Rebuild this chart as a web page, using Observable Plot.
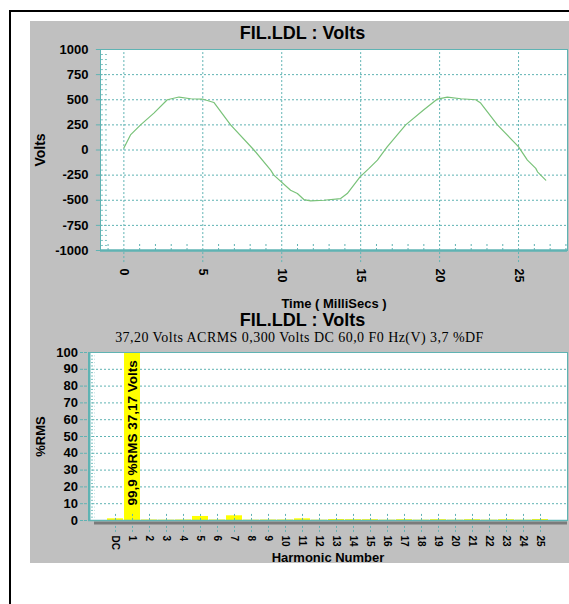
<!DOCTYPE html>
<html><head><meta charset="utf-8">
<script src="https://cdn.jsdelivr.net/npm/d3@7"></script>
<script src="https://cdn.jsdelivr.net/npm/@observablehq/plot@0.6"></script>
<style>
html,body{margin:0;padding:0;background:#fff;width:569px;height:604px;overflow:hidden;position:relative;font-family:"Liberation Sans",Arial,sans-serif;}
#frame{position:absolute;left:9px;top:10px;width:600px;height:640px;border-left:2px solid #000;border-top:2px solid #000;}
#panel{position:absolute;left:30px;top:21px;width:539px;height:542px;background:#c0c0c0;}
.title{position:absolute;left:33px;width:539px;text-align:center;font-weight:bold;font-size:18px;line-height:18px;color:#000;white-space:nowrap;}
.sub{position:absolute;left:30px;width:539px;text-align:center;font-family:"Liberation Serif","Times New Roman",serif;font-size:14px;line-height:14px;letter-spacing:0.45px;color:#000;white-space:nowrap;}
</style></head>
<body>
<div id="frame"></div>
<div id="panel"></div>
<div id="charts"></div>
<div class="title" style="top:24px">FIL.LDL : Volts</div>
<div class="title" style="top:311px">FIL.LDL : Volts</div>
<div class="sub" style="top:331px">37,20 Volts ACRMS 0,300 Volts DC 60,0 F0 Hz(V) 3,7 %DF</div>
<script>
// ---- Waveform data (top chart) ----
const timeMs = [0.0, 0.42, 1.06, 1.9, 2.75, 3.49, 4.23, 4.97, 5.7, 6.76, 8.24, 9.3, 9.5, 10.56, 10.99, 11.4, 11.83, 12.67, 13.73, 14.15, 14.96, 15.53, 16.06, 16.69, 17.85, 19.0, 19.86, 20.49, 21.34, 22.29, 22.6, 23.66, 24.99, 25.56, 26.09, 26.2, 26.72];
const volts = [20, 150, 250, 367, 500, 527, 510, 507, 473, 250, 0, -200, -250, -400, -433, -493, -507, -500, -483, -433, -267, -183, -100, 33, 250, 400, 507, 527, 510, 500, 467, 250, 33, -100, -183, -217, -300];
const voltTicks = [-1000, -750, -500, -250, 0, 250, 500, 750, 1000];
const timeTicks = [0, 5, 10, 15, 20, 25];

// ---- Harmonic data (bottom chart) ----
const harmonics = ["DC","1","2","3","4","5","6","7","8","9","10","11","12","13","14","15","16","17","18","19","20","21","22","23","24","25"];
const pctRms = [1.0, 99.9, 0.3, 0.2, 0.3, 2.4, 0.3, 2.8, 0.2, 0.3, 0.3, 1.0, 0.2, 0.6, 0.5, 0.5, 0.2, 0.5, 0.2, 0.5, 0.2, 0.5, 0.2, 0.5, 0.2, 0.6];
const pctTicks = [0, 10, 20, 30, 40, 50, 60, 70, 80, 90, 100];
const barLabel = "99,9 %RMS 37,17 Volts";

const teal = "#5fb3b3";
const green = "#79c279";
const font = '"Liberation Sans", Arial, sans-serif';

const wave = timeMs.map((t, i) => ({t, v: volts[i]}));
const minorT = d3.range(-1, 29).filter(d => d % 5 !== 0);
const minorV = d3.range(-1000, 1001, 50);

const topChart = Plot.plot({
  width: 569, height: 320,
  marginTop: 49, marginLeft: 100, marginRight: 2, marginBottom: 70,
  x: {domain: [-1.48, 28.1], axis: null},
  y: {domain: [-1000, 1000], axis: null},
  style: {position: "absolute", left: "0px", top: "0px", background: "transparent", overflow: "visible", fontFamily: font, color: "#000"},
  marks: [
    Plot.frame({fill: "white", stroke: null}),
    Plot.ruleY(voltTicks.slice(1, -1), {stroke: teal, strokeDasharray: "2,2"}),
    Plot.ruleX(timeTicks, {y1: -1120, y2: 1000, stroke: teal, strokeDasharray: "2,2"}),
    Plot.ruleX(minorT, {y1: -1000, y2: -920, stroke: teal, strokeDasharray: "2,2"}),
    Plot.ruleY(minorV, {x1: -1.42, x2: -1.0, stroke: teal, strokeDasharray: "2,2", strokeOpacity: 0.8}),
    Plot.ruleY(voltTicks, {x1: -1.74, x2: -1.48, stroke: teal}),
    Plot.line(wave, {x: "t", y: "v", stroke: green, strokeWidth: 1.2}),
    Plot.frame({stroke: teal}),
    Plot.ruleY([-1000], {stroke: teal, strokeWidth: 2.5}),
    Plot.text(voltTicks, {x: -1.48, y: d => d, text: d => String(d), dx: -12, textAnchor: "end", fontSize: 13, fontWeight: "bold", fill: "#000"}),
    Plot.text(timeTicks, {x: d => d, y: -1000, text: d => String(d), dy: 18, rotate: 90, textAnchor: "start", lineAnchor: "middle", fontSize: 12.5, fontWeight: "bold", fill: "#000"}),
    Plot.text(["Time ( MilliSecs )"], {frameAnchor: "bottom", dy: 53, lineAnchor: "middle", textAnchor: "middle", fontSize: 13, fontWeight: "bold", fill: "#000"}),
    Plot.text(["Volts"], {frameAnchor: "left", dx: -60, rotate: -90, textAnchor: "middle", lineAnchor: "middle", fontSize: 14, fontWeight: "bold", fill: "#000"})
  ]
});

const bottomChart = Plot.plot({
  width: 569, height: 604,
  marginTop: 352, marginLeft: 88, marginRight: 2, marginBottom: 84,
  x: {type: "band", domain: harmonics, range: [99, 556.6], paddingInner: 0.06, paddingOuter: 0, axis: null},
  y: {domain: [0, 100], axis: null},
  style: {position: "absolute", left: "0px", top: "0px", background: "transparent", overflow: "visible", fontFamily: font, color: "#000"},
  marks: [
    Plot.frame({fill: "white", stroke: null}),
    Plot.ruleY(pctTicks.slice(1, -1), {stroke: teal, strokeDasharray: "2,2"}),
    Plot.ruleY(d3.range(0, 101, 2), {insetLeft: 3, insetRight: 472, stroke: teal, strokeDasharray: "2,1.5", strokeOpacity: 0.8}),
    Plot.ruleY(pctTicks, {insetLeft: -8, insetRight: 479, stroke: teal, strokeDasharray: "3,1"}),
    Plot.barY(harmonics.map((h, i) => ({h, p: pctRms[i]})), {x: "h", y: "p", fill: "#ffff00"}),
    Plot.ruleX(harmonics, {y1: -7.1, y2: 4.2, stroke: teal, strokeDasharray: "2,2"}),
    Plot.frame({stroke: teal}),
    Plot.frame({insetRight: 477, fill: teal, stroke: null}),
    Plot.ruleY([0], {dy: 2.5, stroke: "#7a7a7a", strokeWidth: 3, insetLeft: 6}),
    Plot.ruleY([0], {stroke: teal, strokeWidth: 1.5}),
    Plot.text([barLabel], {x: () => "1", y: () => 0, dy: -15, rotate: -90, textAnchor: "start", lineAnchor: "middle", fontSize: 13.5, fontWeight: "bold", fill: "#000"}),
    Plot.text(pctTicks, {frameAnchor: "left", y: d => d, text: d => String(d), dx: -10.5, textAnchor: "end", fontSize: 13, fontWeight: "bold", fill: "#000"}),
    Plot.text(harmonics, {x: d => d, y: 0, text: d => d, dy: 15, rotate: 90, textAnchor: "start", lineAnchor: "middle", fontSize: 10, fontWeight: "bold", fill: "#000"}),
    Plot.text(["%RMS"], {frameAnchor: "left", dx: -48, rotate: -90, textAnchor: "middle", lineAnchor: "middle", fontSize: 13, fontWeight: "bold", fill: "#000"}),
    Plot.text(["Harmonic Number"], {frameAnchor: "bottom", dy: 37, lineAnchor: "middle", textAnchor: "middle", fontSize: 13, fontWeight: "bold", fill: "#000"})
  ]
});

const host = document.getElementById("charts");
host.appendChild(topChart);
host.appendChild(bottomChart);
</script>
</body></html>
